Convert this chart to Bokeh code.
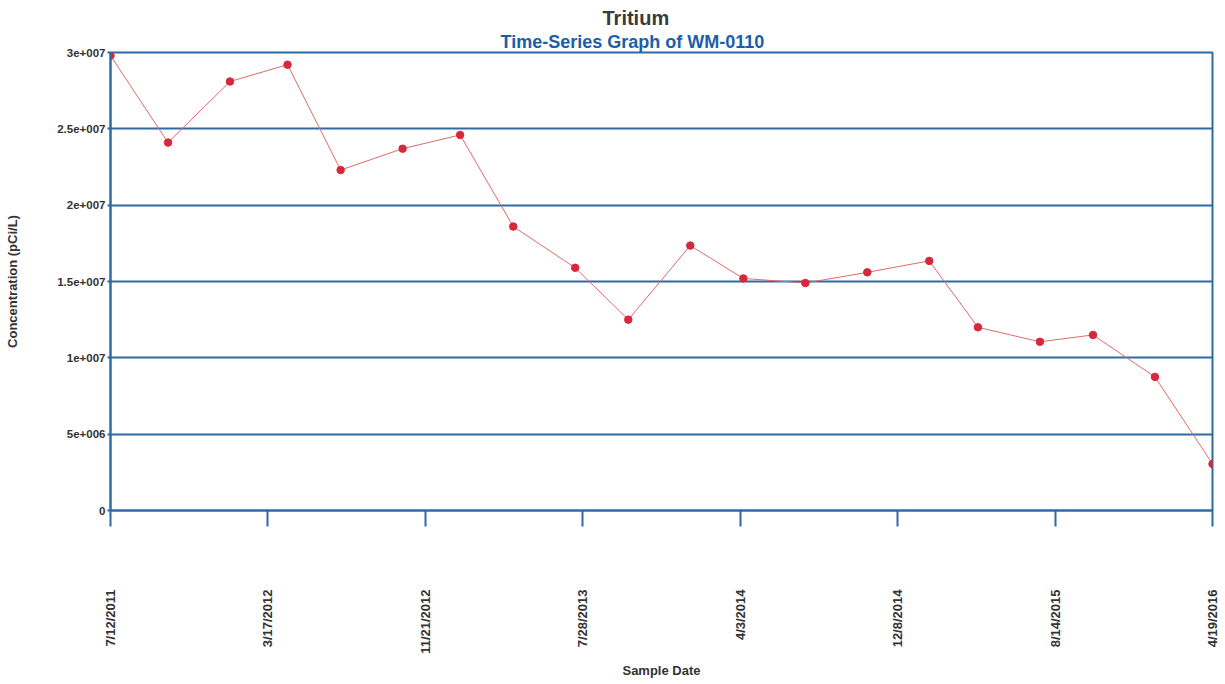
import pandas as pd
from bokeh.plotting import figure
from bokeh.models import (Range1d, FixedTicker, CustomJSTickFormatter, Title,
                          ColumnDataSource)
from bokeh.embed import file_html
from bokeh.resources import INLINE

# ---- data ----
sample_dates = ["2011-07-12", "2011-10-11", "2012-01-17", "2012-04-17", "2012-07-10",
                "2012-10-16", "2013-01-15", "2013-04-09", "2013-07-16", "2013-10-08",
                "2014-01-14", "2014-04-08", "2014-07-15", "2014-10-21", "2015-01-27",
                "2015-04-14", "2015-07-21", "2015-10-13", "2016-01-19", "2016-04-19"]
concentration = [2.98e7, 2.41e7, 2.81e7, 2.92e7, 2.23e7,
                 2.37e7, 2.46e7, 1.86e7, 1.59e7, 1.25e7,
                 1.735e7, 1.52e7, 1.49e7, 1.56e7, 1.635e7,
                 1.20e7, 1.105e7, 1.15e7, 8.75e6, 3.05e6]

xtick_dates = ["2011-07-12", "2012-03-17", "2012-11-21", "2013-07-28",
               "2014-04-03", "2014-12-08", "2015-08-14", "2016-04-19"]
xtick_labels = ["7/12/2011", "3/17/2012", "11/21/2012", "7/28/2013",
                "4/3/2014", "12/8/2014", "8/14/2015", "4/19/2016"]
ytick_values = [0, 5e6, 1e7, 1.5e7, 2e7, 2.5e7, 3e7]
ytick_labels = ["0", "5e+006", "1e+007", "1.5e+007", "2e+007", "2.5e+007", "3e+007"]

title_text = "Tritium"
subtitle_text = "Time-Series Graph of WM-0110"
x_label = "Sample Date"
y_label = "Concentration (pCi/L)"

# ---- styling ----
BLUE = "#2f6aa6"
FONT = "Liberation Sans"

dates = pd.to_datetime(sample_dates)
src = ColumnDataSource(dict(x=dates, y=concentration))
xt = [float(pd.Timestamp(d).value // 10**6) for d in xtick_dates]

LOOKUP = """
let best = 0, bd = Infinity;
for (let i = 0; i < tvals.length; i++) { const d = Math.abs(tvals[i] - tick); if (d < bd) { bd = d; best = i; } }
return tlabels[best];
"""

p = figure(width=1220, height=680, output_backend="svg", toolbar_location=None,
           x_axis_type="datetime",
           x_range=Range1d(xt[0], xt[-1]), y_range=Range1d(0, 3e7),
           min_border_left=110, min_border_right=8, min_border_top=52,
           min_border_bottom=168)
p.background_fill_color = "white"
p.border_fill_color = "white"
p.outline_line_color = BLUE
p.outline_line_width = 2

p.xgrid.visible = False
p.ygrid.ticker = FixedTicker(ticks=ytick_values)
p.ygrid.grid_line_color = BLUE
p.ygrid.grid_line_width = 2

p.line("x", "y", source=src, line_color="#e06a6a", line_width=1)
p.scatter("x", "y", source=src, size=7.5, fill_color="#d8283c", line_color="#d8283c")

# titles (first added sits closest to the plot)
p.add_layout(Title(text=subtitle_text, align="left", offset=390, standoff=1,
                   text_font=FONT, text_font_size="18px", text_font_style="bold",
                   text_color="#1c5ea8"), "above")
p.add_layout(Title(text=title_text, align="left", offset=492, standoff=2,
                   text_font=FONT, text_font_size="20px", text_font_style="bold",
                   text_color="#3b3b3b"), "above")

# x axis
xa = p.xaxis[0]
xa.ticker = FixedTicker(ticks=xt)
xa.formatter = CustomJSTickFormatter(args=dict(tvals=xt, tlabels=xtick_labels), code=LOOKUP)
xa.major_label_orientation = 1.5708
xa.axis_line_color = BLUE
xa.axis_line_width = 2
xa.major_tick_line_color = BLUE
xa.major_tick_line_width = 2
xa.major_tick_out = 16
xa.major_tick_in = 0
xa.minor_tick_line_color = None
xa.major_label_standoff = 63
xa.major_label_text_font = FONT
xa.major_label_text_font_size = "13px"
xa.major_label_text_font_style = "bold"
xa.major_label_text_color = "#333333"
xa.axis_label = x_label
xa.axis_label_text_font = FONT
xa.axis_label_text_font_size = "13px"
xa.axis_label_text_font_style = "bold"
xa.axis_label_text_color = "#333333"
xa.axis_label_standoff = 6

# y axis
ya = p.yaxis[0]
ya.ticker = FixedTicker(ticks=ytick_values)
ya.formatter = CustomJSTickFormatter(args=dict(tvals=ytick_values, tlabels=ytick_labels), code=LOOKUP)
ya.axis_line_color = BLUE
ya.axis_line_width = 2
ya.major_tick_line_color = BLUE
ya.major_tick_line_width = 2
ya.major_tick_out = 3
ya.major_tick_in = 0
ya.minor_tick_line_color = None
ya.major_label_standoff = 2
ya.major_label_text_font = FONT
ya.major_label_text_font_size = "11.5px"
ya.major_label_text_font_style = "bold"
ya.major_label_text_color = "#333333"
ya.axis_label = y_label
ya.axis_label_text_font = FONT
ya.axis_label_text_font_size = "13px"
ya.axis_label_text_font_style = "bold"
ya.axis_label_text_color = "#333333"
ya.axis_label_standoff = 34

open("out.html", "w").write(file_html(p, INLINE))
